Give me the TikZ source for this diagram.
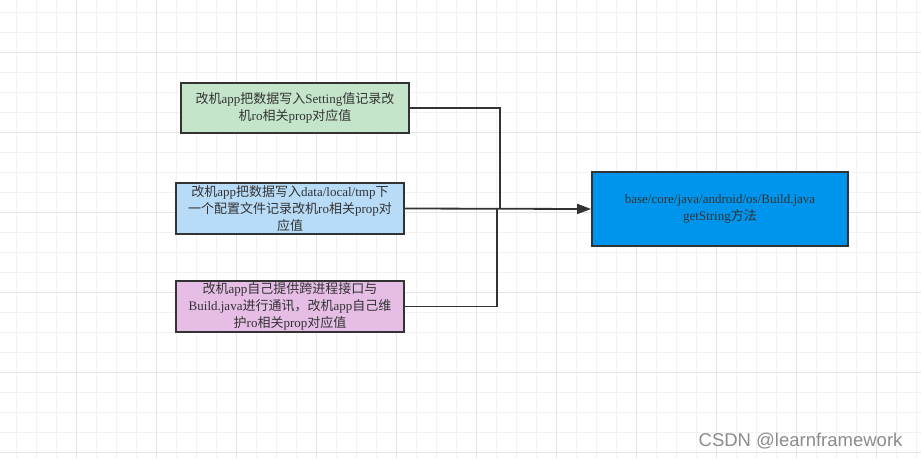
\documentclass[tikz,border=0pt]{standalone}
\usepackage{fontspec}
\setmainfont{Liberation Serif}
\newfontfamily\cjk{Noto Sans CJK SC}
\newfontfamily\wmfont{Liberation Sans}
\usetikzlibrary{arrows.meta}
\newcommand\zh[1]{{\cjk #1}}
\definecolor{gridminor}{HTML}{F2F2F2}
\definecolor{gridmajor}{HTML}{E4E4E4}
\definecolor{edge}{HTML}{333333}
\definecolor{txt}{HTML}{333333}
\definecolor{fillgreen}{HTML}{C5E5CB}
\definecolor{fillblue}{HTML}{B8DCF7}
\definecolor{fillpink}{HTML}{E5BDE5}
\definecolor{fillmain}{HTML}{0095EC}
\tikzset{
  box/.style={draw=edge, line width=1.8pt, rectangle, align=center, text=txt,
    font=\fontsize{13}{17}\selectfont, inner sep=0pt},
  conn/.style={draw=edge, line width=1.8pt},
}
\begin{document}
\begin{tikzpicture}[x=1pt,y=-1pt]
\useasboundingbox (0,0) rectangle (921,458);
\fill[white] (0,0) rectangle (921,458);
\begin{scope}
\clip (0,0) rectangle (921,458);
\foreach \i in {0,...,46} {
  \draw[gridminor, line width=0.8pt] ({16.7+20*\i},0) -- ({16.7+20*\i},458);
}
\foreach \j in {0,...,23} {
  \draw[gridminor, line width=0.8pt] (0,{12.7+20*\j}) -- (921,{12.7+20*\j});
}
\foreach \i in {0,...,11} {
  \draw[gridmajor, line width=0.8pt] ({76.7+80*\i},0) -- ({76.7+80*\i},458);
}
\foreach \j in {0,...,5} {
  \draw[gridmajor, line width=0.8pt] (0,{52.7+80*\j}) -- (921,{52.7+80*\j});
}
\end{scope}

\node[box, fill=fillgreen, minimum width=228pt, minimum height=50pt] (b1) at (295,108)
  {\zh{改机}app\zh{把数据写入}Setting\zh{值记录改}\\\zh{机}ro\zh{相关}prop\zh{对应值}};
\node[box, fill=fillblue, minimum width=228pt, minimum height=51pt] (b2) at (290,208.5)
  {\zh{改机}app\zh{把数据写入}data/local/tmp\zh{下}\\\zh{一个配置文件记录改机}ro\zh{相关}prop\zh{对}\\\zh{应值}};
\node[box, fill=fillpink, minimum width=228pt, minimum height=51pt] (b3) at (290,306.5)
  {\zh{改机}app\zh{自己提供跨进程接口与}\\Build.java\zh{进行通讯，改机}app\zh{自己维}\\\zh{护}ro\zh{相关}prop\zh{对应值}};
\node[box, fill=fillmain, minimum width=256pt, minimum height=74pt] (b4) at (720,209)
  {base/core/java/android/os/Build.java\\getString\zh{方法}};

\coordinate (j1) at (500,209);
\coordinate (j3) at (497,209);
\draw[conn] (b1.east) -| (j1);
\draw[conn] (b3.east) -| (j3);
\draw[conn, -{Triangle[length=14pt,width=10pt]}] (b2.east) -- (b4.west);

\node[text=black!45, font=\wmfont\fontsize{18.5}{18.5}\selectfont, anchor=east] (wm) at (906,441) {CSDN @learnframework};
\end{tikzpicture}
\end{document}
